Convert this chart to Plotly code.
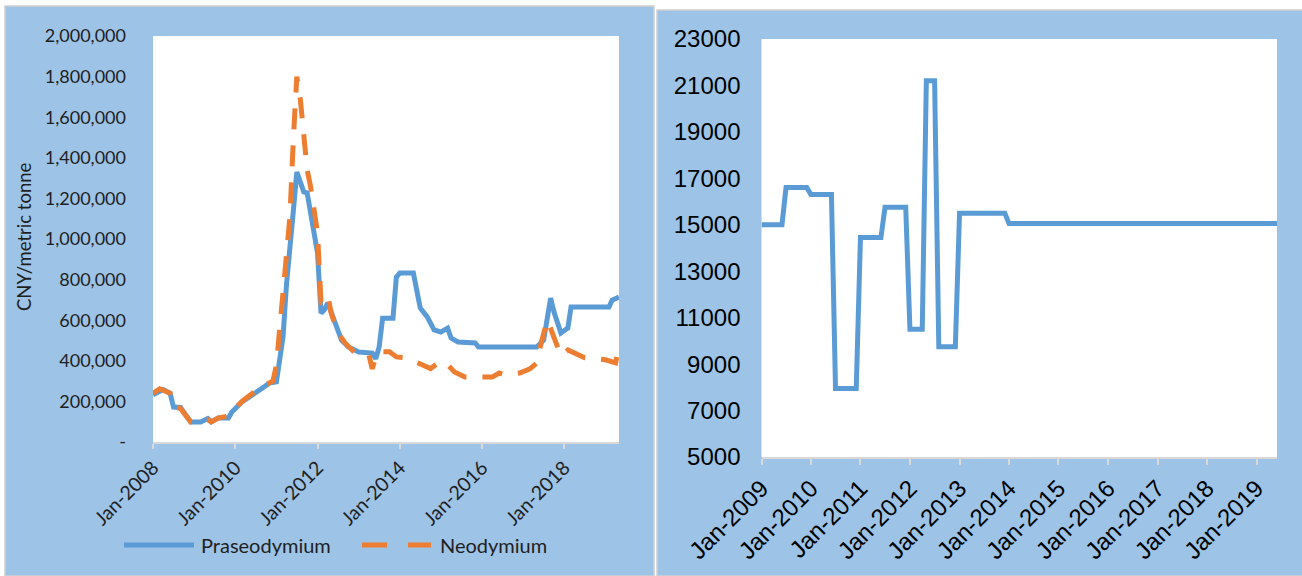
import plotly.graph_objects as go

W, H = 1302, 576

# ---------------- Left chart data (CNY / metric tonne) ----------------
pr_dates = ["2008-01-01", "2008-04-01", "2008-06-01", "2008-07-01", "2008-09-01", "2008-12-01",
            "2009-03-01", "2009-05-01", "2009-06-01", "2009-08-01", "2009-11-01", "2009-12-01",
            "2010-03-01", "2010-05-01", "2010-07-01", "2010-09-01", "2010-11-01", "2011-01-01",
            "2011-03-01", "2011-04-01", "2011-05-01", "2011-06-01", "2011-07-01", "2011-09-01",
            "2011-10-01", "2011-12-01", "2012-01-01", "2012-02-01", "2012-03-01", "2012-04-01",
            "2012-06-01", "2012-08-01", "2012-10-01", "2013-01-01", "2013-05-01", "2013-06-01",
            "2013-07-01", "2013-08-01", "2013-11-01", "2013-12-01", "2014-01-01", "2014-05-01",
            "2014-07-01", "2014-09-01", "2014-11-01", "2015-01-01", "2015-03-01", "2015-04-01",
            "2015-06-01", "2015-11-01", "2015-12-01", "2017-05-01", "2017-07-01", "2017-09-01",
            "2017-10-01", "2017-12-01", "2018-02-01", "2018-03-01", "2019-02-01", "2019-03-01",
            "2019-05-01"]
pr_values = [232000, 258000, 240000, 172000, 170000, 99000,
             99000, 116000, 99000, 118000, 118000, 148000,
             197000, 222000, 246000, 271000, 290000, 296000,
             520000, 780000, 940000, 1143000, 1330000, 1232000,
             1227000, 1010000, 931000, 635000, 650000, 685000,
             586000, 502000, 468000, 443000, 438000, 410000,
             468000, 610000, 610000, 813000, 832000, 832000,
             660000, 616000, 552000, 542000, 561000, 512000,
             493000, 488000, 468000, 468000, 502000, 709000,
             640000, 537000, 561000, 665000, 665000, 699000,
             714000]

nd_dates = ["2008-01-01", "2008-03-01", "2008-06-01", "2008-07-01", "2008-09-01", "2008-12-01",
            "2009-03-01", "2009-05-01", "2009-06-01", "2009-08-01", "2009-11-01", "2009-12-01",
            "2010-03-01", "2010-05-01", "2010-07-01", "2010-09-01", "2010-11-01", "2010-12-01",
            "2011-01-01", "2011-02-01", "2011-03-01", "2011-04-01", "2011-05-01", "2011-06-01",
            "2011-07-01", "2011-08-01", "2011-09-01", "2011-10-01", "2011-11-01", "2011-12-01",
            "2012-01-01", "2012-02-01", "2012-03-01", "2012-04-01", "2012-05-01", "2012-07-01",
            "2012-09-01", "2012-12-01", "2013-02-01", "2013-04-01", "2013-05-01", "2013-06-01",
            "2013-07-01", "2013-10-01", "2013-12-01", "2014-03-01", "2014-05-01", "2014-08-01",
            "2014-10-01", "2015-01-01", "2015-03-01", "2015-05-01", "2015-08-01", "2016-04-01",
            "2016-06-01", "2016-08-01", "2016-12-01", "2017-03-01", "2017-05-01", "2017-06-01",
            "2017-08-01", "2017-09-01", "2017-11-01", "2017-12-01", "2018-02-01", "2018-04-01",
            "2018-07-01", "2018-10-01", "2019-01-01", "2019-04-01", "2019-05-01"]
nd_values = [240000, 262000, 240000, 175000, 165000, 99000,
             99000, 110000, 99000, 118000, 128000, 150000,
             200000, 228000, 252000, 278000, 292000, 300000,
             380000, 560000, 700000, 900000, 1110000, 1500000,
             1800000, 1690000, 1500000, 1340000, 1256000, 1128000,
             1030000, 690000, 700000, 724000, 635000, 537000,
             488000, 438000, 429000, 429000, 360000, 420000,
             445000, 445000, 419000, 415000, 400000, 375000,
             362000, 400000, 380000, 345000, 320000, 320000,
             340000, 330000, 340000, 360000, 389000, 470000,
             600000, 560000, 460000, 425000, 453000, 440000,
             415000, 410000, 405000, 390000, 470000]

left_ytickvals = [0, 200000, 400000, 600000, 800000, 1000000, 1200000, 1400000, 1600000, 1800000, 2000000]
left_yticktext = ["-", "200,000", "400,000", "600,000", "800,000", "1,000,000", "1,200,000",
                  "1,400,000", "1,600,000", "1,800,000", "2,000,000"]
left_xtickvals = ["2008-01-01", "2010-01-01", "2012-01-01", "2014-01-01", "2016-01-01", "2018-01-01"]
left_xticktext = ["Jan-2008", "Jan-2010", "Jan-2012", "Jan-2014", "Jan-2016", "Jan-2018"]

# ---------------- Right chart data ----------------
right_dates = ["2009-01-01", "2009-06-01", "2009-07-01", "2009-12-01", "2010-01-01", "2010-06-01",
               "2010-07-01", "2010-12-01", "2011-01-01", "2011-06-01", "2011-07-01", "2011-12-01",
               "2012-01-01", "2012-04-01", "2012-05-01", "2012-07-01", "2012-08-01", "2012-12-01",
               "2013-01-01", "2013-12-01", "2014-01-01", "2019-06-01"]
right_values = [15000, 15000, 16600, 16600, 16300, 16300,
                7950, 7950, 14450, 14450, 15750, 15750,
                10500, 10500, 21200, 21200, 9750, 9750,
                15500, 15500, 15050, 15050]

right_ytickvals = [5000, 7000, 9000, 11000, 13000, 15000, 17000, 19000, 21000, 23000]
right_yticktext = ["5000", "7000", "9000", "11000", "13000", "15000", "17000", "19000", "21000", "23000"]
right_xtickvals = ["2009-01-01", "2010-01-01", "2011-01-01", "2012-01-01", "2013-01-01", "2014-01-01",
                   "2015-01-01", "2016-01-01", "2017-01-01", "2018-01-01", "2019-01-01"]
right_xticktext = ["Jan-2009", "Jan-2010", "Jan-2011", "Jan-2012", "Jan-2013", "Jan-2014",
                   "Jan-2015", "Jan-2016", "Jan-2017", "Jan-2018", "Jan-2019"]

# ---------------- Styling ----------------
BLUE = "#5B9BD5"
ORANGE = "#ED7D31"
PANEL = "#9DC3E6"
BORDER = "#D0D0D0"
AXIS = "#D9D9D9"
LFAM = "Lato, Open Sans, sans-serif"
LEFT_YFONT = dict(family=LFAM, size=18, color="#1f1f1f")
LEFT_XFONT = dict(family=LFAM, size=19.5, color="#1f1f1f")
RIGHT_FONT = dict(family="Liberation Sans, Arial, sans-serif", size=24, color="#000000")


def px(x):
    return x / W


def py(y):
    return 1 - y / H


# plot-area pixel boxes
L_X0, L_X1, L_Y0, L_Y1 = 153, 619, 36, 442
R_X0, R_X1, R_Y0, R_Y1 = 761.5, 1277, 39, 457

fig = go.Figure()

fig.add_trace(go.Scatter(x=pr_dates, y=pr_values, mode="lines", name="Praseodymium",
                         line=dict(color=BLUE, width=5), xaxis="x", yaxis="y"))
fig.add_trace(go.Scatter(x=nd_dates, y=nd_values, mode="lines", name="Neodymium",
                         line=dict(color=ORANGE, width=5, dash="21px,16px"), xaxis="x", yaxis="y"))
fig.add_trace(go.Scatter(x=right_dates, y=right_values, mode="lines", name="Price",
                         line=dict(color=BLUE, width=5), xaxis="x2", yaxis="y2"))

shapes = [
    # panel backgrounds
    dict(type="rect", xref="paper", yref="paper", x0=px(5), x1=px(654), y0=py(576), y1=py(6),
         fillcolor=PANEL, line=dict(color=BORDER, width=1.5), layer="below"),
    dict(type="rect", xref="paper", yref="paper", x0=px(657), x1=px(1303), y0=py(576), y1=py(10),
         fillcolor=PANEL, line=dict(color=BORDER, width=1.5), layer="below"),
    # plot areas
    dict(type="rect", xref="paper", yref="paper", x0=px(L_X0), x1=px(L_X1), y0=py(L_Y1), y1=py(L_Y0),
         fillcolor="white", line=dict(width=0), layer="below"),
    dict(type="rect", xref="paper", yref="paper", x0=px(R_X0), x1=px(R_X1), y0=py(R_Y1), y1=py(R_Y0),
         fillcolor="white", line=dict(width=0), layer="below"),
    # legend symbols
    dict(type="line", xref="paper", yref="paper", x0=px(124), x1=px(194), y0=py(545), y1=py(545),
         line=dict(color=BLUE, width=5)),
    dict(type="line", xref="paper", yref="paper", x0=px(362), x1=px(431), y0=py(545), y1=py(545),
         line=dict(color=ORANGE, width=5, dash="25px,21px")),
]

annotations = [
    dict(text="CNY/metric tonne", xref="paper", yref="paper", x=px(24), y=py(237),
         showarrow=False, textangle=-90, xanchor="center", yanchor="middle",
         font=dict(family=LFAM, size=18.5, color="#1f1f1f")),
    dict(text="Praseodymium", xref="paper", yref="paper", x=px(199), y=py(545),
         showarrow=False, xanchor="left", yanchor="middle",
         font=dict(family=LFAM, size=20, color="#1f1f1f")),
    dict(text="Neodymium", xref="paper", yref="paper", x=px(438), y=py(545),
         showarrow=False, xanchor="left", yanchor="middle",
         font=dict(family=LFAM, size=20, color="#1f1f1f")),
]

fig.update_layout(
    width=W, height=H,
    autosize=False,
    margin=dict(l=0, r=0, t=0, b=0, pad=0, autoexpand=False),
    paper_bgcolor="white",
    plot_bgcolor="white",
    showlegend=False,
    shapes=shapes,
    annotations=annotations,
    xaxis=dict(domain=[px(L_X0), px(L_X1)], anchor="y", type="date", automargin=False,
               range=["2008-01-01", "2019-05-01"],
               tickmode="array", tickvals=left_xtickvals, ticktext=left_xticktext,
               tickangle=-45, ticks="outside", ticklen=5, tickwidth=1.5, tickcolor=AXIS,
               showline=True, linecolor=AXIS, linewidth=1.5, showgrid=False, zeroline=False,
               tickfont=LEFT_XFONT),
    yaxis=dict(domain=[py(L_Y1), py(L_Y0)], anchor="x", range=[0, 2000000], automargin=False,
               tickmode="array", tickvals=left_ytickvals, ticktext=left_yticktext,
               showgrid=False, zeroline=False, showline=False, ticks="",
               ticklabelstandoff=26, tickfont=LEFT_YFONT),
    xaxis2=dict(domain=[px(R_X0), px(R_X1)], anchor="y2", type="date", automargin=False,
                range=["2009-01-01", "2019-06-01"],
                tickmode="array", tickvals=right_xtickvals, ticktext=right_xticktext,
                tickangle=-45, ticks="outside", ticklen=6, tickwidth=1.5, tickcolor=AXIS,
                showline=True, linecolor=AXIS, linewidth=1.5, showgrid=False, zeroline=False,
                tickfont=RIGHT_FONT),
    yaxis2=dict(domain=[py(R_Y1), py(R_Y0)], anchor="x2", range=[5000, 23000], automargin=False,
                tickmode="array", tickvals=right_ytickvals, ticktext=right_yticktext,
                showgrid=False, zeroline=False, showline=False, ticks="",
                ticklabelstandoff=20, tickfont=RIGHT_FONT),
)

fig.write_html("out.html", config={"displayModeBar": False})
